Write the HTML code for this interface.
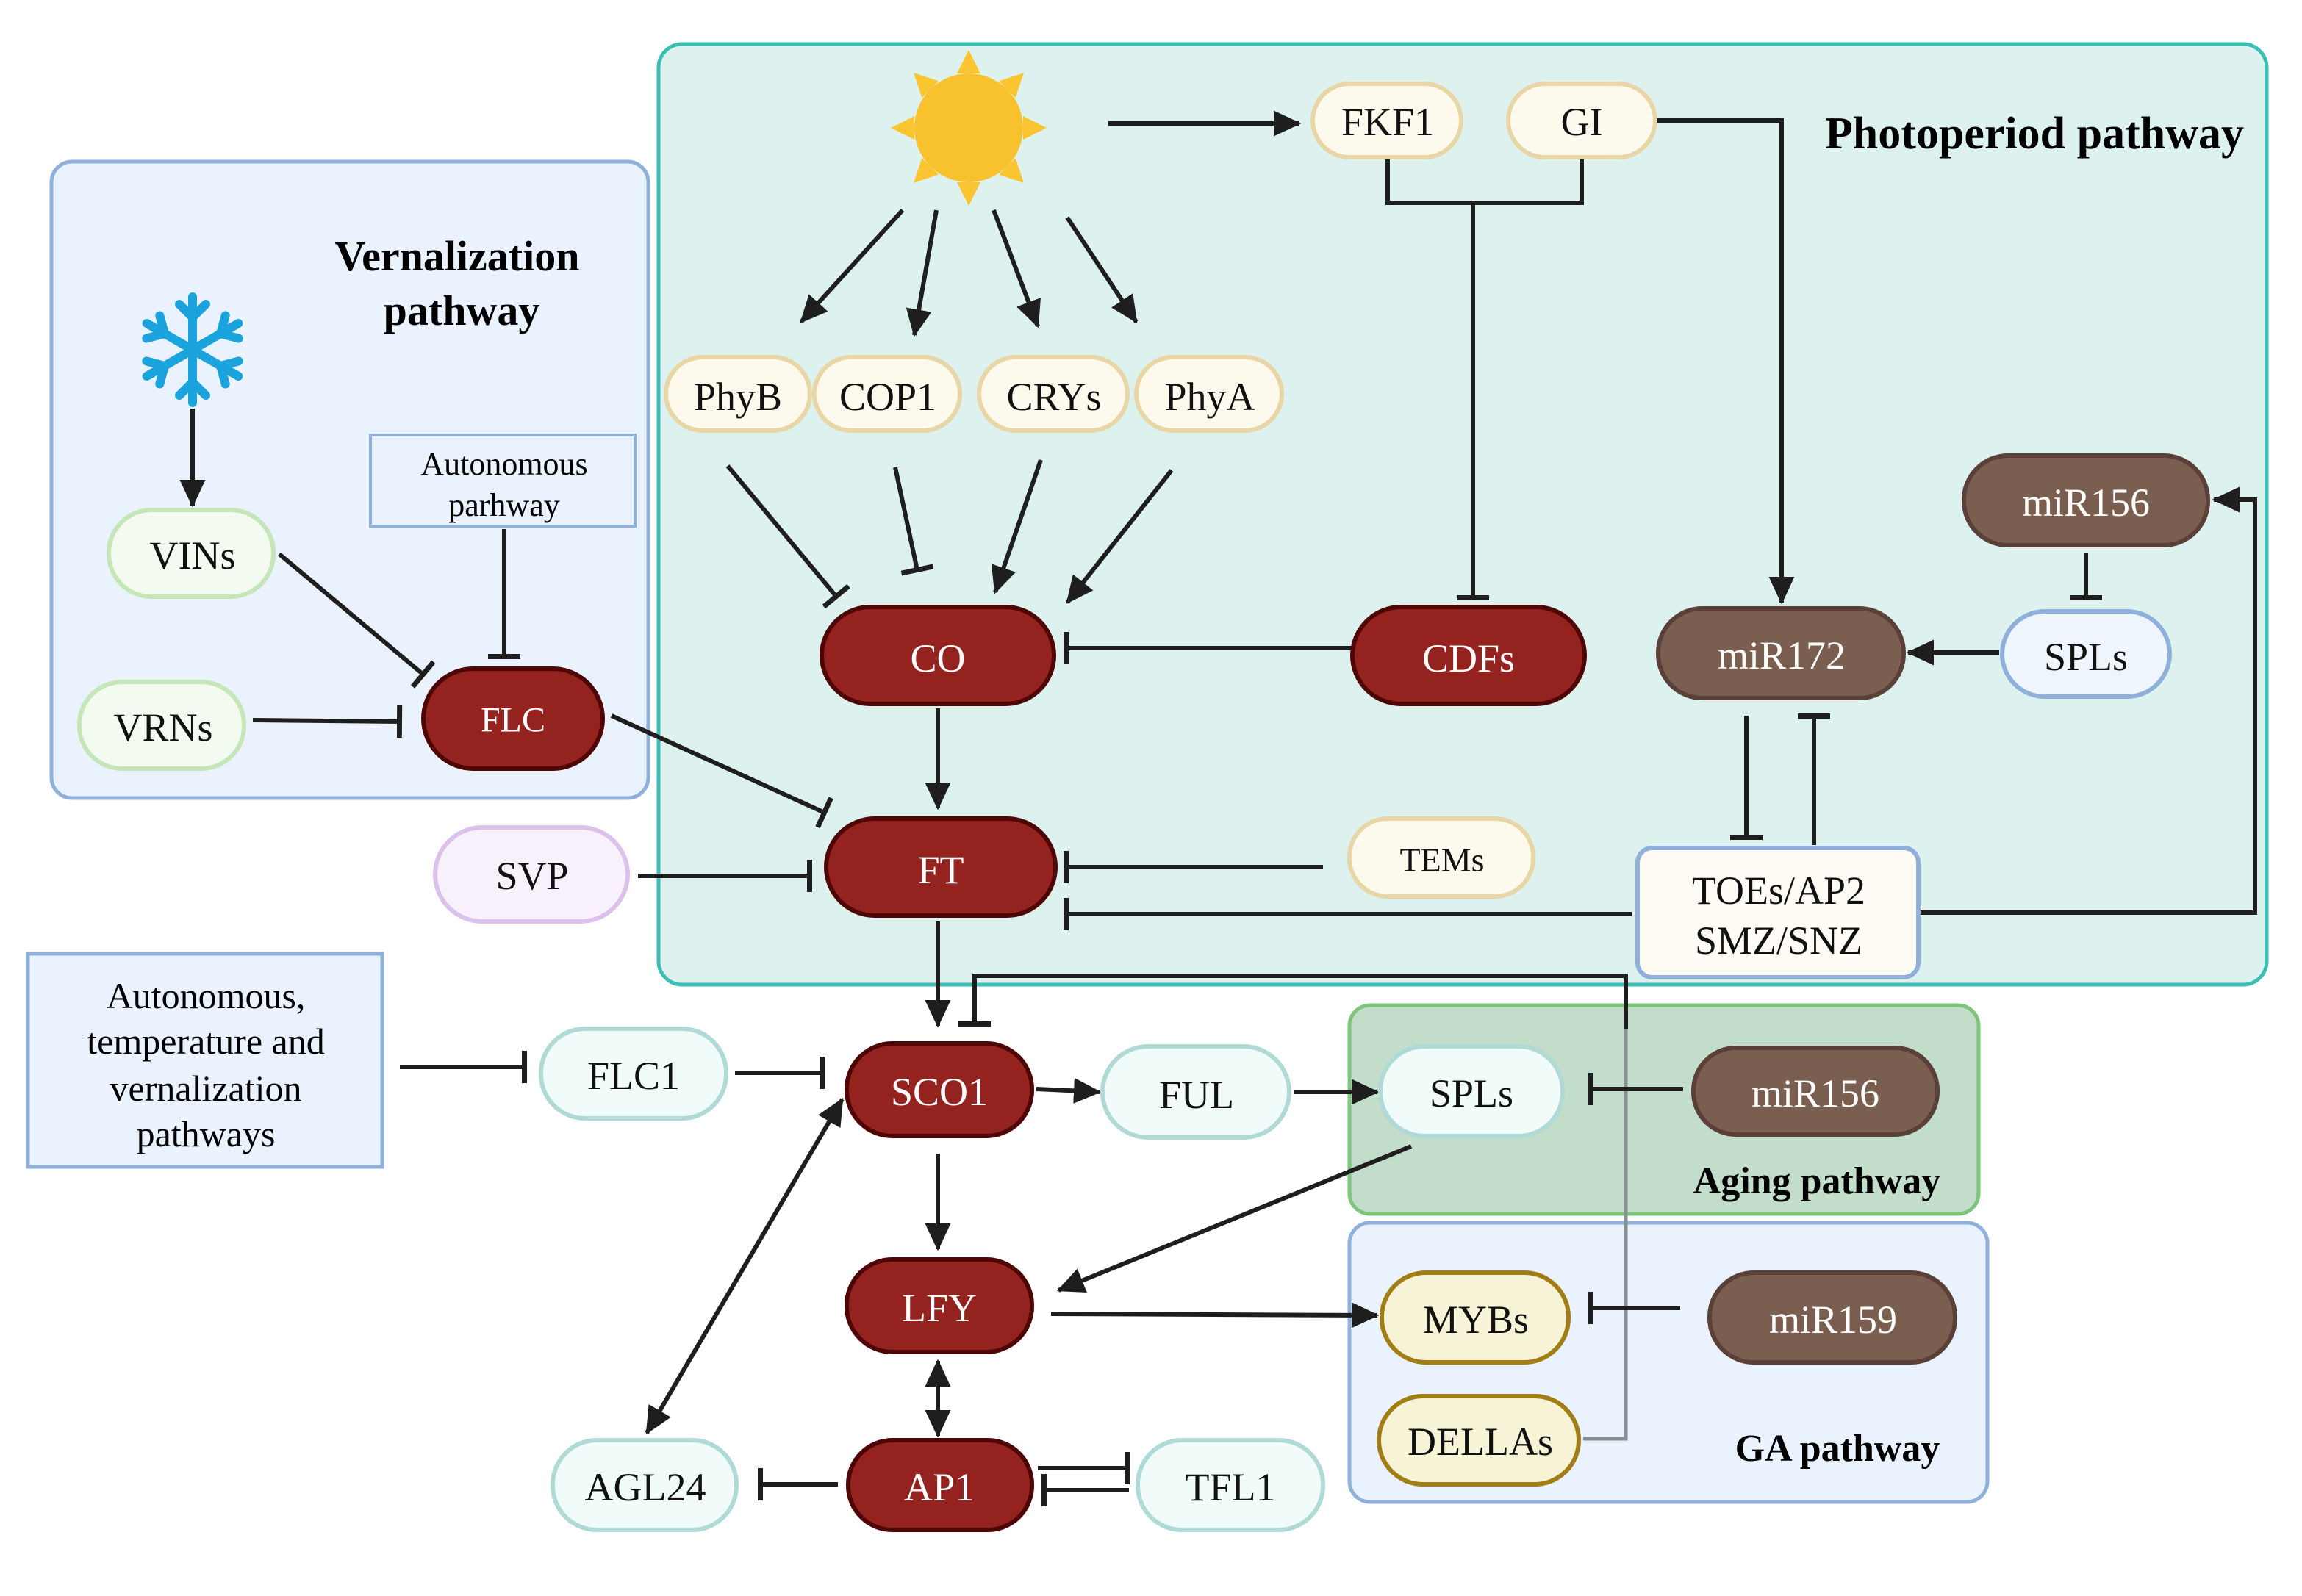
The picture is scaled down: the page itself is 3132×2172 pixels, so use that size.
<!DOCTYPE html>
<html><head><meta charset="utf-8"><style>
html,body{margin:0;padding:0;background:#fff}
svg{display:block}
svg text{font-family:"Liberation Serif","Times New Roman",Times,"DejaVu Serif",serif}
</style></head><body>
<svg width="3132" height="2172" viewBox="0 0 1566 1086" xmlns="http://www.w3.org/2000/svg">
<defs>
<marker id="ar" markerUnits="userSpaceOnUse" markerWidth="20" markerHeight="20" refX="14" refY="7" orient="auto" viewBox="0 0 16 14"><path d="M0,0 L15,7 L0,14 Z" fill="#1e1e1e"/></marker>
<marker id="ars" markerUnits="userSpaceOnUse" markerWidth="20" markerHeight="20" refX="1" refY="7" orient="auto" viewBox="0 0 16 14"><path d="M15,0 L0,7 L15,14 Z" fill="#1e1e1e"/></marker>
<marker id="bar" markerUnits="userSpaceOnUse" markerWidth="6" markerHeight="22" refX="2" refY="11" orient="auto" viewBox="0 0 6 22"><rect x="0" y="0" width="3.5" height="22" fill="#1e1e1e"/></marker>
</defs>
<rect width="1566" height="1086" fill="#fff"/>
<rect x="35" y="110" width="406" height="433" rx="14" fill="#eaf3fd" stroke="#8fb0da" stroke-width="2.5"/>
<rect x="448" y="30" width="1094" height="640" rx="16" fill="#ddf2ee" stroke="#3bbfb5" stroke-width="2.5"/>
<rect x="918" y="684" width="428" height="142" rx="14" fill="#c3ddcb" stroke="#7dc57a" stroke-width="2.5"/>
<rect x="918" y="832" width="434" height="190" rx="14" fill="#eaf3fd" stroke="#8fb0da" stroke-width="2.5"/>
<rect x="19" y="649" width="241" height="145" fill="#eaf3fd" stroke="#8fb0da" stroke-width="2.5"/>
<rect x="252" y="296" width="180" height="62" fill="#eaf3fd" stroke="#8fb0da" stroke-width="2"/>

<g>
<text x="1384" y="101" font-size="31" font-weight="bold" text-anchor="middle">Photoperiod pathway</text>
<text x="311" y="184" font-size="29" font-weight="bold" text-anchor="middle">Vernalization</text>
<text x="314" y="221" font-size="29" font-weight="bold" text-anchor="middle">pathway</text>
<text x="1236" y="812" font-size="26" font-weight="bold" text-anchor="middle">Aging pathway</text>
<text x="1250" y="994" font-size="26" font-weight="bold" text-anchor="middle">GA pathway</text>
<text x="343" y="323" font-size="22" text-anchor="middle">Autonomous</text>
<text x="343" y="351" font-size="22" text-anchor="middle">parhway</text>
<text x="140" y="686" font-size="25" text-anchor="middle">Autonomous,</text>
<text x="140" y="717" font-size="25" text-anchor="middle">temperature and</text>
<text x="140" y="749" font-size="25" text-anchor="middle">vernalization</text>
<text x="140" y="780" font-size="25" text-anchor="middle">pathways</text>
</g>

<g fill="#fbc531">
<circle cx="659" cy="87" r="37" fill="#f7c22e"/>
<g id="ray"><path d="M651,50 L667,50 L659,34 Z"/></g>
<use href="#ray" transform="rotate(45 659 87)"/><use href="#ray" transform="rotate(90 659 87)"/><use href="#ray" transform="rotate(135 659 87)"/><use href="#ray" transform="rotate(180 659 87)"/><use href="#ray" transform="rotate(225 659 87)"/><use href="#ray" transform="rotate(270 659 87)"/><use href="#ray" transform="rotate(315 659 87)"/>
</g>
<g stroke="#1aa3dd" stroke-width="6" stroke-linecap="round" fill="none">
<g id="arm"><line x1="131" y1="238" x2="131" y2="202"/><path d="M122,207 L131,216 L140,207"/></g>
<use href="#arm" transform="rotate(60 131 238)"/><use href="#arm" transform="rotate(120 131 238)"/><use href="#arm" transform="rotate(180 131 238)"/><use href="#arm" transform="rotate(240 131 238)"/><use href="#arm" transform="rotate(300 131 238)"/>
</g>

<g stroke="#1e1e1e" stroke-width="3" fill="none">
<line x1="754" y1="84" x2="884" y2="84" marker-end="url(#ar)"/>
<line x1="614" y1="143" x2="545" y2="219" marker-end="url(#ar)"/>
<line x1="637" y1="143" x2="622" y2="228" marker-end="url(#ar)"/>
<line x1="676" y1="143" x2="706" y2="222" marker-end="url(#ar)"/>
<line x1="726" y1="148" x2="773" y2="219" marker-end="url(#ar)"/>
<line x1="495" y1="317" x2="569" y2="406" marker-end="url(#bar)"/>
<line x1="609" y1="318" x2="624" y2="388" marker-end="url(#bar)"/>
<line x1="708" y1="313" x2="677" y2="403" marker-end="url(#ar)"/>
<line x1="797" y1="320" x2="726" y2="410" marker-end="url(#ar)"/>
<polyline points="944,107 944,138 1076,138 1076,107"/>
<line x1="1002" y1="138" x2="1002" y2="407" marker-end="url(#bar)"/>
<polyline points="1126,82 1212,82 1212,410" marker-end="url(#ar)"/>
<line x1="920" y1="441" x2="725" y2="441" marker-end="url(#bar)"/>
<line x1="638" y1="482" x2="638" y2="550" marker-end="url(#ar)"/>
<line x1="416" y1="487" x2="561" y2="553" marker-end="url(#bar)"/>
<line x1="190" y1="377" x2="288" y2="459" marker-end="url(#bar)"/>
<line x1="172" y1="490" x2="272" y2="491" marker-end="url(#bar)"/>
<line x1="343" y1="360" x2="343" y2="447" marker-end="url(#bar)"/>
<line x1="131" y1="278" x2="131" y2="344" marker-end="url(#ar)"/>
<line x1="434" y1="596" x2="551" y2="596" marker-end="url(#bar)"/>
<line x1="900" y1="590" x2="725" y2="590" marker-end="url(#bar)"/>
<line x1="1110" y1="622" x2="725" y2="622" marker-end="url(#bar)"/>
<polyline points="1305,621 1534,621 1534,340 1506,340" marker-end="url(#ar)"/>
<line x1="1188" y1="487" x2="1188" y2="570" marker-end="url(#bar)"/>
<line x1="1234" y1="575" x2="1234" y2="487" marker-end="url(#bar)"/>
<line x1="1360" y1="444" x2="1298" y2="444" marker-end="url(#ar)"/>
<line x1="1419" y1="376" x2="1419" y2="407" marker-end="url(#bar)"/>
<line x1="638" y1="627" x2="638" y2="698" marker-end="url(#ar)"/>
<polyline points="1106,700 1106,664 663,664 663,697" marker-end="url(#bar)"/>
<polyline points="1077,979 1106,979 1106,700" stroke="#8a8f92" stroke-width="2.5"/>
<line x1="272" y1="726" x2="357" y2="726" marker-end="url(#bar)"/>
<line x1="500" y1="730" x2="560" y2="730" marker-end="url(#bar)"/>
<line x1="705" y1="741" x2="748" y2="743" marker-end="url(#ar)"/>
<line x1="880" y1="743" x2="937" y2="743" marker-end="url(#ar)"/>
<line x1="1145" y1="741" x2="1082" y2="741" marker-end="url(#bar)"/>
<line x1="638" y1="785" x2="638" y2="850" marker-end="url(#ar)"/>
<line x1="960" y1="780" x2="720" y2="878" marker-end="url(#ar)"/>
<line x1="715" y1="894" x2="937" y2="895" marker-end="url(#ar)"/>
<line x1="1143" y1="890" x2="1082" y2="890" marker-end="url(#bar)"/>
<line x1="638" y1="926" x2="638" y2="977" marker-start="url(#ars)" marker-end="url(#ar)"/>
<line x1="573" y1="748" x2="440" y2="975" marker-start="url(#ars)" marker-end="url(#ar)"/>
<line x1="570" y1="1010" x2="517" y2="1010" marker-end="url(#bar)"/>
<line x1="706" y1="999" x2="767" y2="999" marker-end="url(#bar)"/>
<line x1="768" y1="1014" x2="710" y2="1014" marker-end="url(#bar)"/>
</g>

<g font-size="27" text-anchor="middle" dominant-baseline="central">
<g stroke-width="3">
<rect x="559" y="413" width="158" height="66" rx="33" fill="#94231f" stroke="#4f0606"/>
<rect x="920" y="413" width="158" height="66" rx="33" fill="#94231f" stroke="#4f0606"/>
<rect x="562" y="557" width="156" height="66" rx="33" fill="#94231f" stroke="#4f0606"/>
<rect x="288" y="455" width="122" height="68" rx="34" fill="#94231f" stroke="#4f0606"/>
<rect x="576" y="710" width="126" height="63" rx="31" fill="#94231f" stroke="#4f0606"/>
<rect x="576" y="857" width="126" height="63" rx="31" fill="#94231f" stroke="#4f0606"/>
<rect x="577" y="980" width="125" height="61" rx="30" fill="#94231f" stroke="#4f0606"/>
<rect x="1128" y="414" width="167" height="61" rx="30" fill="#7a5e50" stroke="#5a4038"/>
<rect x="1336" y="310" width="166" height="61" rx="30" fill="#7a5e50" stroke="#5a4038"/>
<rect x="1152" y="713" width="166" height="59" rx="29" fill="#7a5e50" stroke="#5a4038"/>
<rect x="1163" y="866" width="167" height="61" rx="30" fill="#7a5e50" stroke="#5a4038"/>
<rect x="893" y="57" width="101" height="50" rx="25" fill="#fdf9ec" stroke="#e8d6a6"/>
<rect x="1026" y="57" width="100" height="50" rx="25" fill="#fdf9ec" stroke="#e8d6a6"/>
<rect x="453" y="243" width="98" height="50" rx="25" fill="#fdf9ec" stroke="#e8d6a6"/>
<rect x="554" y="243" width="99" height="50" rx="25" fill="#fdf9ec" stroke="#e8d6a6"/>
<rect x="666" y="243" width="101" height="50" rx="25" fill="#fdf9ec" stroke="#e8d6a6"/>
<rect x="773" y="243" width="99" height="50" rx="25" fill="#fdf9ec" stroke="#e8d6a6"/>
<rect x="918" y="557" width="125" height="53" rx="26" fill="#fdf9ec" stroke="#e8d6a6"/>
<rect x="74" y="347" width="112" height="59" rx="29" fill="#f3faef" stroke="#c5e6b8"/>
<rect x="54" y="464" width="112" height="59" rx="29" fill="#f3faef" stroke="#c5e6b8"/>
<rect x="296" y="563" width="131" height="64" rx="32" fill="#f8f0fb" stroke="#dcc1ea"/>
<rect x="368" y="700" width="126" height="61" rx="30" fill="#f0fbfa" stroke="#b0dad6"/>
<rect x="750" y="712" width="127" height="62" rx="31" fill="#f0fbfa" stroke="#b0dad6"/>
<rect x="939" y="712" width="124" height="61" rx="30" fill="#f0fbfa" stroke="#b0dad6"/>
<rect x="376" y="980" width="125" height="61" rx="30" fill="#f0fbfa" stroke="#b0dad6"/>
<rect x="774" y="980" width="126" height="61" rx="30" fill="#f0fbfa" stroke="#b0dad6"/>
<rect x="1362" y="416" width="114" height="58" rx="29" fill="#eef5fd" stroke="#8fb0da"/>
<rect x="1114" y="577" width="191" height="88" rx="10" fill="#fefcf5" stroke="#8fb0da"/>
<rect x="940" y="866" width="127" height="61" rx="30" fill="#f6f3d6" stroke="#a27d15"/>
<rect x="938" y="950" width="136" height="60" rx="30" fill="#f6f3d6" stroke="#a27d15"/>
</g>
<g fill="#fff">
<text x="638" y="448">CO</text><text x="999" y="448">CDFs</text><text x="640" y="592">FT</text>
<text x="349" y="490" font-size="24">FLC</text><text x="639" y="743">SCO1</text><text x="639" y="890">LFY</text><text x="639" y="1012">AP1</text>
<text x="1212" y="446">miR172</text><text x="1419" y="342">miR156</text><text x="1235" y="744">miR156</text><text x="1247" y="898">miR159</text>
</g>
<g fill="#111">
<text x="944" y="83">FKF1</text><text x="1076" y="83">GI</text>
<text x="502" y="270">PhyB</text><text x="604" y="270">COP1</text><text x="717" y="270">CRYs</text><text x="823" y="270">PhyA</text>
<text x="981" y="585" font-size="23">TEMs</text>
<text x="131" y="378">VINs</text><text x="111" y="495">VRNs</text><text x="362" y="596">SVP</text>
<text x="431" y="732">FLC1</text><text x="814" y="745">FUL</text><text x="1001" y="744">SPLs</text>
<text x="439" y="1012">AGL24</text><text x="837" y="1012">TFL1</text><text x="1419" y="447">SPLs</text>
<text x="1210" y="606">TOEs/AP2</text><text x="1210" y="640">SMZ/SNZ</text>
<text x="1004" y="898">MYBs</text><text x="1007" y="981">DELLAs</text>
</g>
</g>
</svg>
</body></html>
